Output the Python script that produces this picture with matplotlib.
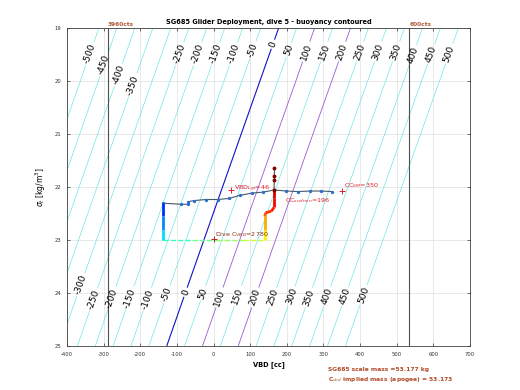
import numpy as np
import matplotlib
matplotlib.use("Agg")
import matplotlib.pyplot as plt
from matplotlib.collections import LineCollection

plt.rcParams['font.family'] = ['DejaVu Sans']
plt.rcParams['axes.unicode_minus'] = False

# glider: scale mass [g] and displaced volume at VBD=0 [cc]
glider_mass = 53177.0
glider_vol = 52008.0

# buoyancy contour levels [g]
levels = np.arange(-500, 501, 50)

# where the contour labels sit (sigma_t of each label)
top_lab_levels = [-500, -450, -400, -350, -250, -200, -150, -100, -50, 0, 50,
                  100, 150, 200, 250, 300, 350, 400, 450, 500]
top_lab_sigma = [19.48, 19.69, 19.88, 20.07, 19.48, 19.48, 19.48, 19.48, 19.41, 19.30,
                 19.41, 19.44, 19.44, 19.44, 19.44, 19.44, 19.44, 19.50, 19.48, 19.48]
bot_lab_levels = [-300, -250, -200, -150, -100, -50, 0, 50, 100, 150, 200, 250,
                  300, 350, 400, 450, 500]
bot_lab_sigma = [23.84, 24.11, 24.09, 24.09, 24.11, 24.02, 23.98, 24.0, 24.08, 24.05,
                 24.08, 24.08, 24.06, 24.08, 24.06, 24.06, 24.03]

# dive trace (VBD, sigma_t), coloured by time fraction
dive_vbd = [-137, -137, -137, -137, -60, 10, 80, 140, 140, 140, 142, 158, 165, 165, 165]
dive_sig = [22.30, 22.55, 22.80, 23.00, 23.00, 23.00, 23.00, 23.00, 22.80, 22.55,
            22.48, 22.45, 22.38, 22.20, 22.05]
dive_t = [0.12, 0.22, 0.30, 0.38, 0.45, 0.50, 0.56, 0.62, 0.68, 0.78, 0.84, 0.87,
          0.89, 0.91, 0.94]

# apogee / climb points
climb_vbd = [-137, -88, -69, -69, -52, -21, 11, 42, 73, 104, 136, 165, 199, 231, 263, 293, 324]
climb_sig = [22.30, 22.32, 22.32, 22.27, 22.25, 22.23, 22.23, 22.21, 22.15, 22.11,
             22.09, 22.05, 22.07, 22.08, 22.07, 22.07, 22.08]

# surface points
surf_vbd = [165, 166, 166, 166]
surf_sig = [22.05, 21.86, 21.78, 21.64]

# VBD pot limits
vbd_lo, vbd_hi = -288, 534
vbd_lo_lab, vbd_hi_lab = '3960cts', '600cts'

# markers
vbd_lgt = 47
cc_sm = 350
cc_surfmin = 196
dive_cvbd_x = 0


def vbd_on_level(c, sig):
    return (glider_mass + c) / (1 + sig / 1000.0) - glider_vol


fig = plt.figure(figsize=(5.2, 3.9), dpi=100)
ax = fig.add_axes([0.1288, 0.112, 0.775, 0.8154])

ax.set_xlim(-400, 700)
ax.set_ylim(25, 19)

vv, ss = np.meshgrid(np.linspace(-400, 700, 221), np.linspace(19, 25, 121))
buoy = (1 + ss / 1000.0) * (glider_vol + vv) - glider_mass

cols = []
lws = []
for c in levels:
    if c == 0:
        cols.append('#1010c8'); lws.append(0.8)
    elif c in (100, 200):
        cols.append('#9a5ad0'); lws.append(0.6)
    else:
        cols.append('#6fe6e6'); lws.append(0.5)
cs = ax.contour(vv, ss, buoy, levels=levels, colors=cols, linewidths=lws)

pos = [(vbd_on_level(c, s), s) for c, s in zip(top_lab_levels, top_lab_sigma)]
pos += [(vbd_on_level(c, s), s) for c, s in zip(bot_lab_levels, bot_lab_sigma)]
labs = ax.clabel(cs, manual=pos, inline=True, fontsize=6.5, fmt='%d', colors='k',
                 inline_spacing=2)

# contour slope on screen, so labels follow the lines
p_top = ax.transData.transform((vbd_on_level(0, 19), 19))
p_bot = ax.transData.transform((vbd_on_level(0, 25), 25))
ang = np.degrees(np.arctan2(p_top[1] - p_bot[1], p_top[0] - p_bot[0]))
for t in labs:
    t.set_rotation(ang)

ax.axvline(vbd_lo, color='#505050', lw=0.8)
ax.axvline(vbd_hi, color='#505050', lw=0.8)
ax.text(vbd_lo, 1.004, vbd_lo_lab, transform=ax.get_xaxis_transform(), ha='left',
        va='bottom', fontsize=4.2, color='#b05a3a', fontweight='bold')
ax.text(vbd_hi, 1.004, vbd_hi_lab, transform=ax.get_xaxis_transform(), ha='left',
        va='bottom', fontsize=4.2, color='#b05a3a', fontweight='bold')

# climb line with dots
ax.plot(climb_vbd, climb_sig, '-', color='#4a5866', lw=0.8, zorder=4)
ax.plot(climb_vbd, climb_sig, 'o', color='#2a6fd0', ms=2.4, mec='none', zorder=5)

# dive trace coloured by time
pts = np.column_stack([dive_vbd, dive_sig])
segs = [pts[i:i + 2] for i in range(len(pts) - 1)]
tmid = [(dive_t[i] + dive_t[i + 1]) / 2 for i in range(len(pts) - 1)]
seg_ls = ['--' if dive_sig[i] == dive_sig[i + 1] else '-' for i in range(len(pts) - 1)]
seg_lw = [1.0 if dive_sig[i] == dive_sig[i + 1] else 2.0 for i in range(len(pts) - 1)]
lc = LineCollection(segs, colors=plt.cm.jet(tmid), linewidths=seg_lw, linestyles=seg_ls,
                    zorder=6, capstyle='butt')
ax.add_collection(lc)

ax.plot(surf_vbd, surf_sig, '-', color='#4a3030', lw=0.7, zorder=6)
ax.plot(surf_vbd, surf_sig, 'o', color='#800000', ms=2.8, mec='none', zorder=7)

red = '#e02030'
ax.plot([vbd_lgt], [22.06], '+', color=red, ms=5, mew=0.7, zorder=8)
ax.text(vbd_lgt + 10, 22.03, 'VBD$_{Lgt}$=46', color=red, fontsize=4.6, va='center', zorder=8)
ax.plot([cc_sm], [22.07], '+', color=red, ms=5, mew=0.7, zorder=8)
ax.text(cc_sm + 5, 21.97, 'CC$_{SM}$=350', color=red, fontsize=4.6, va='center', zorder=8)
ax.text(cc_surfmin, 22.25, 'CC$_{surfmin}$=196', color=red, fontsize=4.6, va='center', zorder=8)
ax.plot([dive_cvbd_x], [22.98], '+', color='#c02020', ms=5, mew=0.7, zorder=8)
ax.text(dive_cvbd_x + 4, 22.9, 'Dive C$_{VBD}$=2780', color='#8b2a10', fontsize=4.6,
        va='center', zorder=8)

ax.set_xticks(np.arange(-400, 701, 100))
ax.set_yticks(np.arange(19, 26, 1))
ax.grid(True, color='#e0e0e0', lw=0.5)
ax.set_axisbelow(True)
ax.tick_params(direction='in', length=2.5, width=0.5, top=True, right=True,
               labelsize=3.8, pad=4, colors='#333333')
for sp in ax.spines.values():
    sp.set_color('#404040')
    sp.set_linewidth(0.6)

ax.set_title('SG685 Glider Deployment, dive 5 - buoyancy contoured', fontsize=4.8,
             fontweight='bold', pad=3)
ax.set_xlabel('VBD [cc]', fontsize=4.8, fontweight='bold', labelpad=3)
ax.set_ylabel('$\\sigma_t$ [kg/m$^3$]', fontsize=5.5, labelpad=5)

fig.text(328 / 520, 1 - 370 / 390, 'SG685 scale mass =53.177 kg', fontsize=4.3,
         color='#b04a28', va='center', fontweight='bold')
fig.text(328 / 520, 1 - 379 / 390, 'C$_{vbd}$ implied mass (apogee) = 53.173', fontsize=4.3,
         color='#b04a28', va='center', fontweight='bold')

fig.savefig('out.png', dpi=100)
